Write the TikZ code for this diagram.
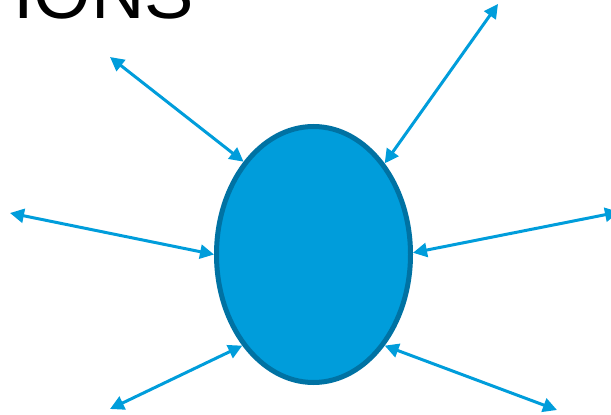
\documentclass[tikz,border=0pt]{standalone}
\usepackage{fontspec}
\setmainfont{Liberation Sans}
\usetikzlibrary{shapes.geometric,arrows.meta}
\definecolor{ballfill}{RGB}{0,157,219}
\definecolor{ballborder}{RGB}{0,114,163}
\definecolor{arrowblue}{RGB}{0,157,219}
\begin{document}
\begin{tikzpicture}[x=1pt,y=-1pt,
  ball/.style={ellipse,draw=ballborder,fill=ballfill,line width=5pt,minimum width=194pt,minimum height=256pt,inner sep=0pt},
  link/.style={draw=arrowblue,line width=3pt,{Triangle[length=14pt,width=14pt]}-{Triangle[length=14pt,width=14pt]}},
  title/.style={anchor=base west,inner sep=0pt,font=\fontsize{74}{80}\selectfont}]
\useasboundingbox (0,0) rectangle (611,415);
\node[title] (t) at (13,19) {IONS};
\node[ball] (e) at (313.5,254.5) {};
\coordinate (c1) at (110,57);
\coordinate (c2) at (498,4);
\coordinate (c3) at (10,213);
\coordinate (c4) at (619,212);
\coordinate (c5) at (110,409);
\coordinate (c6) at (557,410);
\draw[link] (c1) -- (e.127.6);
\draw[link] (c2) -- (e.52.8);
\draw[link] (c3) -- (e.180);
\draw[link] (c4) -- (e.1);
\draw[link] (c5) -- (e.232.7);
\draw[link] (c6) -- (e.308.3);
\end{tikzpicture}
\end{document}
